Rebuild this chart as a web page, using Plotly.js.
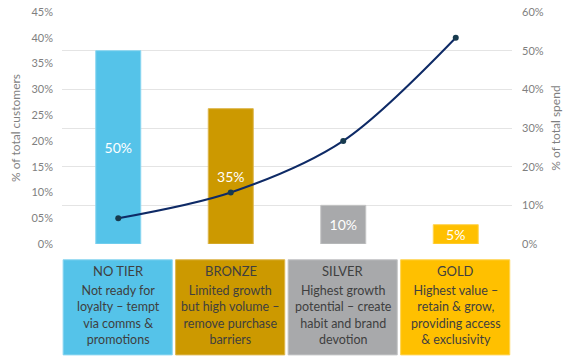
<!DOCTYPE html>
<html>
<head>
<meta charset="utf-8">
<script src="https://cdn.plot.ly/plotly-3.0.1.min.js"></script>
<style>html,body{margin:0;padding:0;background:#fff;}#chart{width:573px;height:358px;}</style>
</head>
<body>
<div id="chart"></div>
<script>
const tiers = ["NO TIER", "BRONZE", "SILVER", "GOLD"];
const spendShare = [50, 35, 10, 5];          // bars, right axis
const customerShare = [5, 10, 20, 40];       // line, left axis
const tierColors = ["#55C3E9", "#CC9900", "#A8A9AB", "#FFC000"];
const tierEdges = ["#8AD6F1", "#DDB64D", "#C3C4C5", "#FFD452"];
const descriptions = [
  "Not ready for<br>loyalty – tempt<br>via comms &amp;<br>promotions",
  "Limited growth<br>but high volume –<br>remove purchase<br>barriers",
  "Highest growth<br>potential – create<br>habit and brand<br>devotion",
  "Highest value –<br>retain &amp; grow,<br>providing access<br>&amp; exclusivity"
];
const leftTickVals = [0, 5, 10, 15, 20, 25, 30, 35, 40, 45];
const leftTickText = ["0%", "05%", "10%", "15%", "20%", "25%", "30%", "35%", "40%", "45%"];
const rightTickVals = [0, 10, 20, 30, 40, 50, 60];
const rightTickText = ["0%", "10%", "20%", "30%", "40%", "50%", "60%"];

const FONT = "Lato, 'Open Sans', sans-serif";
const xIdx = tiers.map((_, i) => i);

const bars = {
  type: "bar",
  x: xIdx,
  y: spendShare,
  yaxis: "y",
  marker: { color: tierColors, line: { color: tierEdges, width: 1 } },
  text: spendShare.map(v => v + "%"),
  textposition: "inside",
  insidetextanchor: "middle",
  constraintext: "none",
  textfont: { color: "#ffffff", size: 14, family: FONT },
  hoverinfo: "skip",
  showlegend: false
};

const line = {
  type: "scatter",
  mode: "lines+markers",
  x: xIdx,
  y: customerShare,
  yaxis: "y2",
  line: { color: "#0E2A66", width: 2, shape: "spline", smoothing: 0.9 },
  marker: { color: "#173A4E", size: 6 },
  showlegend: false,
  hoverinfo: "skip"
};

const shapes = tiers.map((t, i) => ({
  type: "rect",
  xref: "x", yref: "paper",
  x0: i - 0.49, x1: i + 0.48,
  y0: -0.478, y1: -0.068,
  fillcolor: tierColors[i],
  line: { color: tierEdges[i], width: 1 },
  layer: "above"
}));

const annotations = [];
tiers.forEach((t, i) => {
  annotations.push({
    xref: "x", yref: "paper", x: i, y: -0.118,
    text: t, showarrow: false, yanchor: "middle", xanchor: "center",
    font: { family: FONT, size: 13, color: "#3F3F3F" }
  });
  annotations.push({
    xref: "x", yref: "paper", x: i, y: -0.308,
    text: descriptions[i], showarrow: false, yanchor: "middle", xanchor: "center",
    align: "center",
    font: { family: FONT, size: 12.5, color: "#3F3F3F" }
  });
});

const layout = {
  width: 573, height: 358,
  margin: { l: 62, r: 61, t: 12, b: 114 },
  paper_bgcolor: "#ffffff",
  plot_bgcolor: "#ffffff",
  bargap: 0.6,
  font: { family: FONT, color: "#7F7F7F" },
  xaxis: {
    range: [-0.5, 3.5],
    showticklabels: false,
    showgrid: false,
    zeroline: false,
    showline: false,
    ticks: "",
    fixedrange: true
  },
  yaxis: {
    side: "right",
    range: [0, 60],
    tickmode: "array",
    tickvals: rightTickVals,
    ticktext: rightTickText,
    showgrid: true,
    gridcolor: "#E4E4E4",
    gridwidth: 1,
    zeroline: false,
    showline: false,
    ticks: "",
    ticklabelstandoff: 9,
    tickfont: { family: FONT, size: 11, color: "#7F7F7F" },
    title: { text: "% of total spend", font: { family: FONT, size: 12, color: "#7F7F7F" }, standoff: 8 }
  },
  yaxis2: {
    overlaying: "y",
    side: "left",
    range: [0, 45],
    tickmode: "array",
    tickvals: leftTickVals,
    ticktext: leftTickText,
    showgrid: false,
    zeroline: false,
    showline: false,
    ticks: "",
    ticklabelstandoff: 8,
    tickfont: { family: FONT, size: 11, color: "#7F7F7F" },
    title: { text: "% of total customers", font: { family: FONT, size: 12, color: "#7F7F7F" }, standoff: 8 }
  },
  shapes: shapes,
  annotations: annotations
};

Plotly.newPlot("chart", [bars, line], layout, { staticPlot: true, displayModeBar: false });
</script>
</body>
</html>
